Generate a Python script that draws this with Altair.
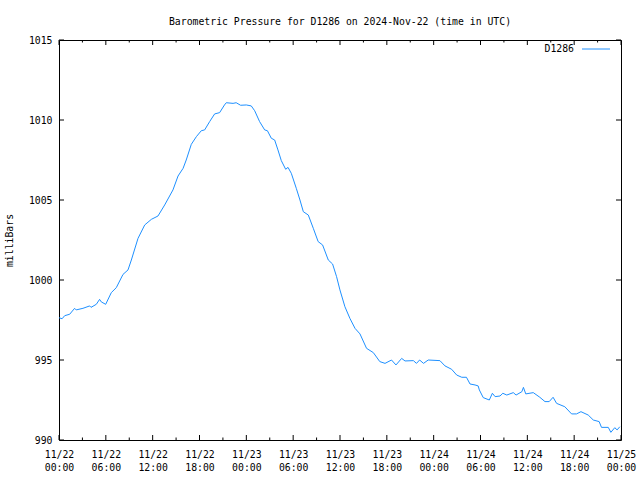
import json
import altair as alt
import pandas as pd

# ---- data ----
hours = [0.0, 0.4, 0.73, 1.37, 2.0, 2.2, 3.07, 3.93, 4.1, 4.78, 5.2, 5.42, 5.98,
         6.7, 7.34, 8.2, 8.84, 9.27, 10.12, 10.98, 11.83, 12.68, 13.54, 14.6,
         15.25, 15.9, 16.3, 16.95, 17.6, 18.23, 18.66, 19.3, 19.94, 20.58, 21.2,
         21.43, 22.3, 22.7, 23.27, 24.0, 24.63, 25.07, 25.7, 26.35, 26.7, 27.2,
         27.63, 28.05, 28.48, 29.04, 29.34, 29.76, 30.4, 30.87, 31.3, 31.94,
         32.58, 33.2, 33.77, 34.5, 35.05, 35.56, 35.99, 36.63, 37.27, 37.92,
         38.56, 39.4, 40.27, 41.1, 41.77, 42.6, 43.17, 43.9, 44.33, 45.4, 45.8,
         46.2, 46.7, 47.3, 48.8, 49.45, 50.3, 50.95, 51.6, 52.2, 52.66, 53.3,
         53.7, 53.85, 54.35, 55.13, 55.52, 55.87, 56.5, 56.86, 57.37, 58.2,
         58.56, 59.3, 59.5, 59.8, 60.76, 61.6, 62.26, 62.8, 63.3, 63.75, 64.8,
         65.67, 66.3, 66.87, 67.8, 68.45, 69.2, 69.5, 70.37, 70.7, 71.2, 71.5,
         71.85]
pressure = [997.64, 997.58, 997.77, 997.86, 998.23, 998.13, 998.23, 998.38,
            998.29, 998.48, 998.79, 998.63, 998.48, 999.21, 999.52, 1000.35,
            1000.63, 1001.25, 1002.6, 1003.44, 1003.79, 1004.0, 1004.69,
            1005.63, 1006.5, 1006.98, 1007.5, 1008.48, 1008.96, 1009.33,
            1009.38, 1009.9, 1010.38, 1010.46, 1010.94, 1011.08, 1011.04,
            1011.08, 1010.92, 1010.94, 1010.88, 1010.58, 1009.9, 1009.38,
            1009.33, 1008.86, 1008.75, 1008.13, 1007.46, 1006.92, 1007.04,
            1006.67, 1005.73, 1005.0, 1004.27, 1004.06, 1003.23, 1002.4,
            1002.19, 1001.25, 1001.0, 1000.21, 999.38, 998.33, 997.6, 996.98,
            996.63, 995.73, 995.46, 994.9, 994.79, 995.0, 994.69, 995.1,
            994.94, 994.96, 994.79, 995.0, 994.79, 995.0, 994.96, 994.63,
            994.42, 994.06, 993.92, 993.92, 993.5, 993.44, 993.38, 993.13,
            992.65, 992.5, 992.92, 992.71, 992.75, 992.92, 992.81, 992.96,
            992.81, 993.02, 993.29, 992.88, 992.96, 992.67, 992.4, 992.4,
            992.67, 992.29, 992.08, 991.63, 991.63, 991.77, 991.56, 991.25,
            991.15, 990.79, 990.79, 990.48, 990.77, 990.63, 990.83]

x_major_hours = [0, 6, 12, 18, 24, 30, 36, 42, 48, 54, 60, 66, 72]
x_minor_hours = [3, 9, 15, 21, 27, 33, 39, 45, 51, 57, 63, 69]
x_date_labels = ["11/22", "11/22", "11/22", "11/22", "11/23", "11/23", "11/23",
                 "11/23", "11/24", "11/24", "11/24", "11/24", "11/25"]
x_time_labels = ["00:00", "06:00", "12:00", "18:00", "00:00", "06:00", "12:00",
                 "18:00", "00:00", "06:00", "12:00", "18:00", "00:00"]
y_ticks = [990, 995, 1000, 1005, 1010, 1015]
series_name = ["D1286"]

title_text = "Barometric Pressure for D1286 on 2024-Nov-22 (time in UTC)"
y_title = "milliBars"

FONT = "DejaVu Sans Mono"
FS = 9.8
COLOR = "#1E90FF"
W, H = 562, 400

df = pd.DataFrame({"h": hours, "p": pressure})
major_df = pd.DataFrame({"h": x_major_hours})
minor_df = pd.DataFrame({"h": x_minor_hours})
ytick_df = pd.DataFrame({"p": y_ticks})
legend_df = pd.DataFrame({"name": series_name})

label_expr = "[{d}[datum.value/6], {t}[datum.value/6]]".format(
    d=json.dumps(x_date_labels), t=json.dumps(x_time_labels))

xscale = alt.Scale(domain=[0, 72], nice=False, zero=False)
yscale = alt.Scale(domain=[990, 1015], nice=False, zero=False)

x_axis = alt.Axis(values=x_major_hours, labelExpr=label_expr, ticks=False,
                  domain=False, grid=False, labelPadding=9,
                  labelLineHeight=13, labelBaseline="top",
                  labelFont=FONT, labelFontSize=FS, labelColor="black",
                  labelOverlap=False, labelFlush=False)
y_axis = alt.Axis(values=y_ticks, format="d", ticks=False, domain=False, grid=False,
                  labelPadding=7, labelFont=FONT, labelFontSize=FS,
                  labelColor="black", titleFont=FONT, titleFontSize=FS,
                  titleFontWeight="normal", titleColor="black",
                  titlePadding=14, labelFlush=False, labelOverlap=False)

line = alt.Chart(df).mark_line(color=COLOR, strokeWidth=1, interpolate="linear").encode(
    x=alt.X("h:Q", scale=xscale, title=None, axis=x_axis),
    y=alt.Y("p:Q", scale=yscale, title=y_title, axis=y_axis),
)

def xticks(data, y0, y1):
    return alt.Chart(data).mark_rule(color="black", strokeWidth=1).encode(
        x=alt.X("h:Q", scale=xscale, title=None, axis=x_axis),
        y=alt.value(y0), y2=alt.value(y1))

def yticks(x0, x1):
    return alt.Chart(ytick_df).mark_rule(color="black", strokeWidth=1).encode(
        y=alt.Y("p:Q", scale=yscale, title=y_title, axis=y_axis),
        x=alt.value(x0), x2=alt.value(x1))

legend_text = alt.Chart(legend_df).mark_text(
    font=FONT, fontSize=FS, align="right", baseline="middle", color="black"
).encode(text="name:N", x=alt.value(W - 47), y=alt.value(9))
legend_line = alt.Chart(legend_df).mark_rule(color=COLOR, strokeWidth=1).encode(
    x=alt.value(W - 39), x2=alt.value(W - 11), y=alt.value(9))

chart = alt.layer(
    line,
    xticks(major_df, H, H - 5), xticks(minor_df, H, H - 2.5),
    xticks(major_df, 0, 5), xticks(minor_df, 0, 2.5),
    yticks(0, 5), yticks(W, W - 5),
    legend_text, legend_line,
).properties(
    width=W, height=H,
    autosize=alt.AutoSizeParams(type="none"),
    padding={"left": 59, "top": 40, "right": 19, "bottom": 40},
    title=alt.TitleParams(text=title_text, font=FONT, fontSize=FS,
                          fontWeight="normal", color="black", anchor="middle",
                          offset=8),
    background="white",
).configure_view(stroke="black", strokeWidth=1)

chart.save("out.html", embed_options={"renderer": "svg", "actions": False})
